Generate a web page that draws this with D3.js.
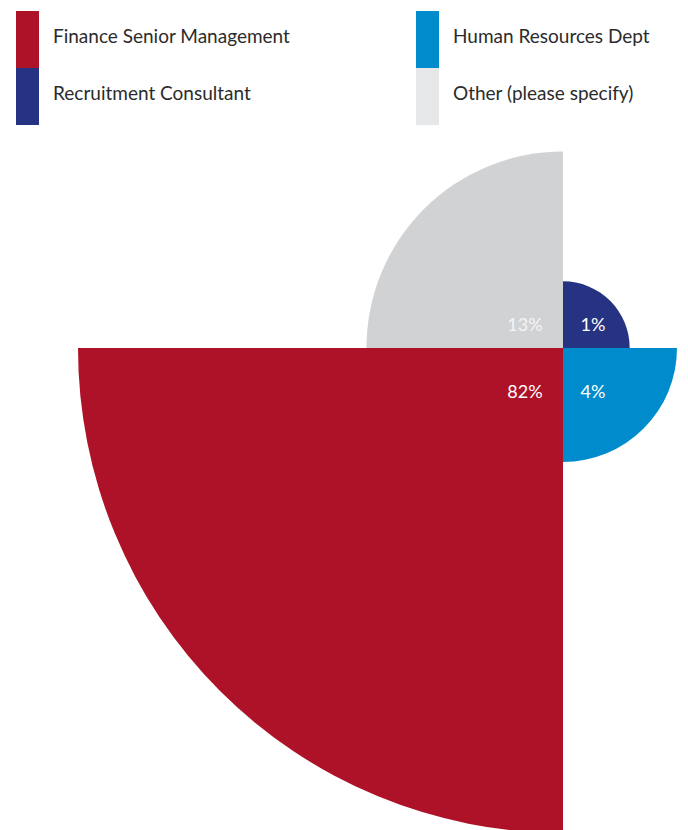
<!DOCTYPE html>
<html>
<head>
<meta charset="utf-8">
<script src="https://cdn.jsdelivr.net/npm/d3@7/dist/d3.min.js"></script>
<style>
  html, body { margin: 0; padding: 0; background: #fff; }
  svg { display: block; font-family: Lato, "Open Sans", sans-serif; }
</style>
</head>
<body>
<svg id="chart" width="688" height="830"></svg>
<script>
// Quadrants, clockwise from 12 o'clock
const categories = ["Recruitment Consultant", "Human Resources Dept", "Finance Senior Management", "Other (please specify)"];
const values = [1, 4, 82, 13];
const colors = ["#263282", "#008CCC", "#AE1229", "#D1D2D4"];

// Legend layout: two columns, two rows
const legendOrder = ["Finance Senior Management", "Recruitment Consultant", "Human Resources Dept", "Other (please specify)"];
const legendColors = ["#AE1229", "#263282", "#008CCC", "#E6E7E9"];

const svg = d3.select("#chart");
const cx = 563, cy = 348;

// Radius grows with area (radial scale)
const r = d3.scaleRadial().domain([0, d3.max(values)]).range([40, 485]);

const pie = d3.pie().value(() => 1).sort(null);
const arcs = pie(values.map((v, i) => ({ v, i })));

const g = svg.append("g").attr("transform", `translate(${cx},${cy})`);

const arc = d3.arc().innerRadius(0);

g.selectAll("path.slice")
  .data(arcs)
  .join("path")
  .attr("class", "slice")
  .attr("fill", d => colors[d.data.i])
  .attr("d", d => arc.outerRadius(r(d.data.v))(d));

// Value labels near the centre of each quadrant
const labelOffsetX = { left: -38, right: 30 };
const labelBaseline = { top: -17, bottom: 50 };
g.selectAll("text.val")
  .data(arcs)
  .join("text")
  .attr("class", "val")
  .attr("text-anchor", "middle")
  .attr("x", d => {
    const mid = (d.startAngle + d.endAngle) / 2;
    return Math.sin(mid) < 0 ? labelOffsetX.left : labelOffsetX.right;
  })
  .attr("y", d => {
    const mid = (d.startAngle + d.endAngle) / 2;
    return -Math.cos(mid) < 0 ? labelBaseline.top : labelBaseline.bottom;
  })
  .attr("fill", d => d.data.i === 3 ? "#F4F4F5" : "#FFFFFF")
  .attr("font-size", 18)
  .text(d => d.data.v + "%");

// Legend
const legend = svg.append("g");
const items = legend.selectAll("g.item")
  .data(legendOrder)
  .join("g")
  .attr("class", "item")
  .attr("transform", (d, i) => `translate(${16 + Math.floor(i / 2) * 400},${11 + (i % 2) * 57})`);

items.append("rect")
  .attr("width", 23)
  .attr("height", 57)
  .attr("fill", (d, i) => legendColors[i]);

items.append("text")
  .attr("x", 37)
  .attr("y", 32)
  .attr("font-size", 19)
  .attr("fill", "#2b2b2b")
  .text(d => d);
</script>
</body>
</html>
